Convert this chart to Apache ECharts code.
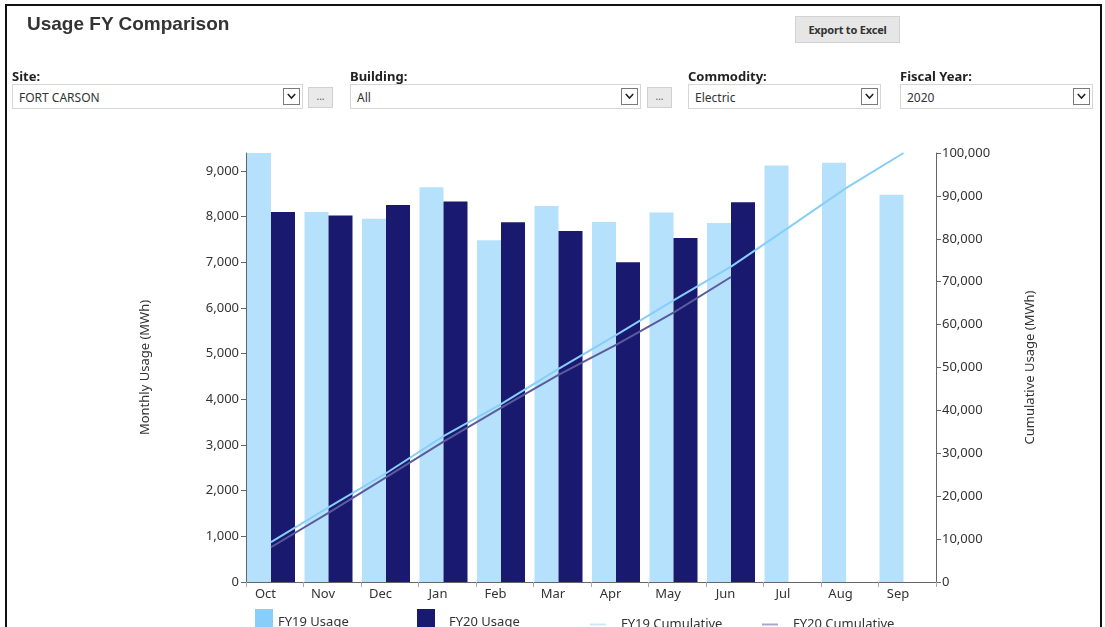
<!DOCTYPE html>
<html>
<head>
<meta charset="utf-8">
<script src="https://cdn.jsdelivr.net/npm/echarts@6/dist/echarts.min.js"></script>
<style>
html,body{margin:0;padding:0;width:1105px;height:627px;overflow:hidden;background:#fff;}
#chart{position:absolute;left:0;top:0;width:1105px;height:627px;z-index:1;}
#frame{position:absolute;left:5px;top:4px;width:1093px;height:700px;border:2px solid #111;z-index:2;pointer-events:none;}
.ui{position:absolute;z-index:3;font-family:"Noto Sans","Open Sans",sans-serif;color:#333;}
#title{left:27px;top:13px;font-family:"Liberation Sans",Arial,sans-serif;font-weight:bold;font-size:19px;line-height:21px;color:#333;}
#export{left:795px;top:16px;width:103px;height:25px;background:#e6e6e6;border:1px solid #d2d2d2;font-weight:bold;font-size:11px;line-height:25px;text-align:center;letter-spacing:-0.2px;color:#333;}
.lbl{font-weight:bold;font-size:13px;line-height:16px;top:68px;color:#222;}
.box{top:84px;height:25px;border:1px solid #d6d6d6;background:#fff;font-size:12px;line-height:25px;box-sizing:border-box;padding-left:6px;}
.arrow{position:absolute;top:3px;width:17px;height:17px;border:1px solid #7a7a7a;box-sizing:border-box;background:#fff;}
.arrow svg{position:absolute;left:3px;top:4px;}
.dots{top:87px;width:25px;height:21px;background:#e9e9e9;border:1px solid #d0d0d0;box-sizing:border-box;font-size:10px;line-height:17px;text-align:center;color:#555;}
</style>
</head>
<body>
<div id="chart"></div>
<div id="frame"></div>
<div class="ui" id="title">Usage FY Comparison</div>
<div class="ui" id="export">Export to Excel</div>

<div class="ui lbl" style="left:12px;">Site:</div>
<div class="ui box" style="left:12px;width:291px;">FORT CARSON<div class="arrow" style="left:270px;"><svg width="9" height="7" viewBox="0 0 9 7"><polyline points="0.8,1 4.5,5 8.2,1" fill="none" stroke="#222" stroke-width="1.6"/></svg></div></div>
<div class="ui dots" style="left:308px;">...</div>

<div class="ui lbl" style="left:350px;">Building:</div>
<div class="ui box" style="left:350px;width:291px;">All<div class="arrow" style="left:270px;"><svg width="9" height="7" viewBox="0 0 9 7"><polyline points="0.8,1 4.5,5 8.2,1" fill="none" stroke="#222" stroke-width="1.6"/></svg></div></div>
<div class="ui dots" style="left:647px;">...</div>

<div class="ui lbl" style="left:688px;">Commodity:</div>
<div class="ui box" style="left:688px;width:193px;">Electric<div class="arrow" style="left:172px;"><svg width="9" height="7" viewBox="0 0 9 7"><polyline points="0.8,1 4.5,5 8.2,1" fill="none" stroke="#222" stroke-width="1.6"/></svg></div></div>

<div class="ui lbl" style="left:900px;">Fiscal Year:</div>
<div class="ui box" style="left:900px;width:193px;">2020<div class="arrow" style="left:172px;"><svg width="9" height="7" viewBox="0 0 9 7"><polyline points="0.8,1 4.5,5 8.2,1" fill="none" stroke="#222" stroke-width="1.6"/></svg></div></div>

<script>
// ---- data ----
const months = ['Oct','Nov','Dec','Jan','Feb','Mar','Apr','May','Jun','Jul','Aug','Sep'];
const fy19Usage = [9390, 8100, 7950, 8640, 7480, 8230, 7880, 8090, 7860, 9115, 9175, 8475];
const fy20Usage = [8100, 8020, 8250, 8330, 7875, 7685, 7000, 7530, 8310, null, null, null];
const fy19Cumulative = [9300, 17400, 25350, 34000, 41450, 49700, 57550, 65650, 73500, 82600, 91800, 100000];
const fy20Cumulative = [8100, 16120, 24370, 32700, 40575, 48260, 55260, 62790, 71100, null, null, null];
const monthlyAxis = {min: 0, max: 9390, interval: 1000};
const cumulativeAxis = {min: 0, max: 100000, interval: 10000};

const fmt = v => Math.round(v).toLocaleString('en-US');
const axisFont = {fontFamily: 'Noto Sans', fontSize: 13, color: '#333'};
const lineAxis = {show: true, lineStyle: {color: '#666', width: 1}};
const tick = {show: true, length: 5, lineStyle: {color: '#666'}};
const legendText = (pad) => ({fontFamily: 'Noto Sans', fontSize: 13, color: '#333', padding: pad});
// square swatch drawn in the upper 18px of a 26px-tall legend cell (the second sub-path is an empty line)
const swatchIcon = 'path://M0,0h18v18h-18zM0,26h18';

const chart = echarts.init(document.getElementById('chart'), null, {renderer: 'canvas'});
chart.setOption({
  animation: false,
  grid: [
    {left: 246, right: 169, top: 153, bottom: 45},
    {left: 242.25, right: 172.75, top: 153, bottom: 45}
  ],
  xAxis: [
    {type: 'category', gridIndex: 0, data: months, boundaryGap: true,
     axisLine: lineAxis, axisTick: {show: true, length: 5, lineStyle: {color: '#aaa'}},
     axisLabel: Object.assign({}, axisFont, {margin: 6, padding: [0, 18.5, 0, 0]})},
    {type: 'category', gridIndex: 1, data: months, boundaryGap: true, show: false}
  ],
  yAxis: [
    {type: 'value', gridIndex: 0, position: 'left', min: monthlyAxis.min, max: monthlyAxis.max, interval: monthlyAxis.interval,
     name: 'Monthly Usage (MWh)', nameLocation: 'middle', nameRotate: 90, nameGap: 94,
     nameTextStyle: {fontFamily: 'Noto Sans', fontSize: 13, color: '#333'},
     axisLine: lineAxis, axisTick: tick, splitLine: {show: false},
     axisLabel: Object.assign({}, axisFont, {margin: 7, formatter: fmt, showMaxLabel: false})},
    {type: 'value', gridIndex: 0, position: 'right', min: cumulativeAxis.min, max: cumulativeAxis.max, interval: cumulativeAxis.interval,
     name: 'Cumulative Usage (MWh)', nameLocation: 'middle', nameRotate: 90, nameGap: 88,
     nameTextStyle: {fontFamily: 'Noto Sans', fontSize: 13, color: '#333'},
     axisLine: lineAxis, axisTick: tick, splitLine: {show: false},
     axisLabel: Object.assign({}, axisFont, {margin: 6, formatter: fmt})},
    {type: 'value', gridIndex: 1, min: monthlyAxis.min, max: monthlyAxis.max, show: false, splitLine: {show: false}},
    {type: 'value', gridIndex: 1, min: cumulativeAxis.min, max: cumulativeAxis.max, show: false, splitLine: {show: false}}
  ],
  legend: [
    {data: [{name: 'FY19 Usage', itemStyle: {color: '#87cefa'}}], left: 250, top: 604, itemWidth: 18, itemHeight: 26, icon: swatchIcon,
     selectedMode: false, textStyle: legendText([0, 0, 0, 0])},
    {data: [{name: 'FY20 Usage', itemStyle: {color: '#191970'}}], left: 412, top: 604, itemWidth: 18, itemHeight: 26, icon: swatchIcon,
     selectedMode: false, textStyle: legendText([0, 0, 0, 9])},
    {data: [{name: 'FY19 Cumulative', itemStyle: {color: '#cce9f8'}}], left: 585, top: 613, itemWidth: 16, itemHeight: 2, icon: 'rect',
     selectedMode: false, textStyle: legendText([2, 0, 0, 10])},
    {data: [{name: 'FY20 Cumulative', itemStyle: {color: '#a9a7cf'}}], left: 757, top: 613, itemWidth: 16, itemHeight: 2, icon: 'rect',
     selectedMode: false, textStyle: legendText([2, 0, 0, 10])}
  ],
  series: [
    {name: 'FY19 Usage', type: 'bar', xAxisIndex: 1, yAxisIndex: 2, data: fy19Usage, barWidth: 24, barGap: '0%',
     itemStyle: {color: 'rgba(135,206,250,0.62)'}},
    {name: 'FY20 Usage', type: 'bar', xAxisIndex: 1, yAxisIndex: 2, data: fy20Usage, barWidth: 24, barGap: '0%',
     itemStyle: {color: '#191970'}},
    {name: 'FY19 Cumulative', type: 'line', xAxisIndex: 1, yAxisIndex: 3, data: fy19Cumulative, showSymbol: false, symbol: 'none',
     lineStyle: {color: '#87cefa', width: 2}, itemStyle: {color: '#87cefa'}},
    {name: 'FY20 Cumulative', type: 'line', xAxisIndex: 1, yAxisIndex: 3, data: fy20Cumulative, showSymbol: false, symbol: 'none',
     lineStyle: {color: '#5b5b9e', width: 2}, itemStyle: {color: '#5b5b9e'}}
  ]
});
</script>
</body>
</html>
